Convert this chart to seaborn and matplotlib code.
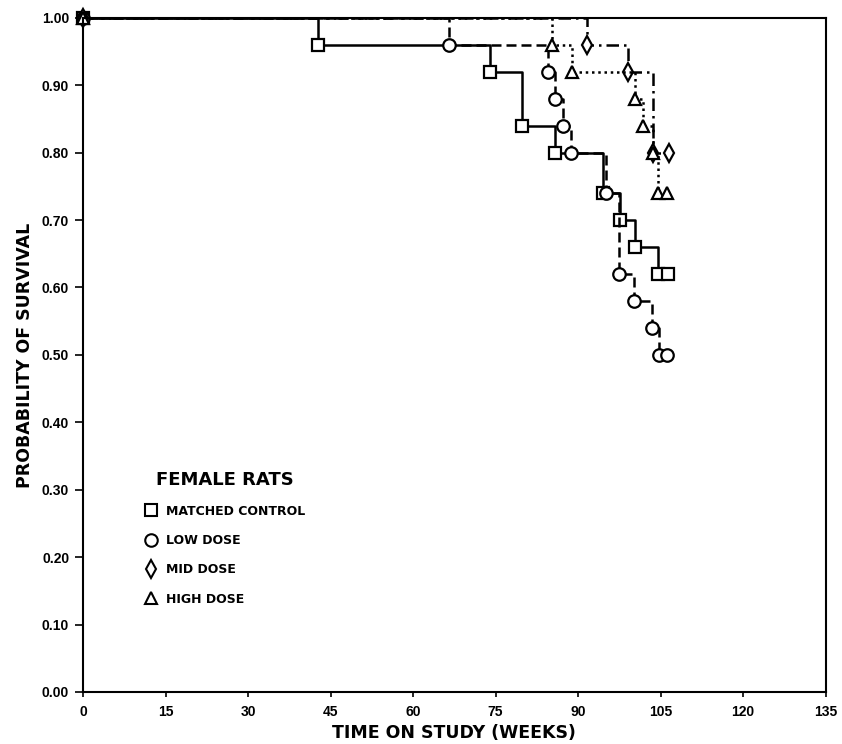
import pandas as pd
import numpy as np
import matplotlib.pyplot as plt
import seaborn as sns
from matplotlib.lines import Line2D

# Kaplan-Meier style step data (weeks, survival)
control_t = [0, 42.8, 74.0, 79.8, 85.8, 94.6, 97.6, 100.4, 104.6, 106.4]
control_s = [1.00, 0.96, 0.92, 0.84, 0.80, 0.74, 0.70, 0.66, 0.62, 0.62]

low_t = [0, 66.5, 84.5, 85.8, 87.2, 88.7, 95.0, 97.5, 100.2, 103.4, 104.7, 106.2]
low_s = [1.00, 0.96, 0.92, 0.88, 0.84, 0.80, 0.74, 0.62, 0.58, 0.54, 0.50, 0.50]

mid_t = [0, 91.6, 99.0, 103.6, 106.6]
mid_s = [1.00, 0.96, 0.92, 0.80, 0.80]

high_t = [0, 85.2, 88.9, 100.4, 101.8, 103.6, 104.6, 106.2]
high_s = [1.00, 0.96, 0.92, 0.88, 0.84, 0.80, 0.74, 0.74]

groups = ['MATCHED CONTROL', 'LOW DOSE', 'MID DOSE', 'HIGH DOSE']
markers = ['s', 'o', 'd', '^']
linestyles = ['-', (0, (4, 2)), (0, (5, 2, 1, 2)), (0, (1, 1.5))]

x_ticks = [0, 15, 30, 45, 60, 75, 90, 105, 120, 135]
y_ticks = [0.0, 0.1, 0.2, 0.3, 0.4, 0.5, 0.6, 0.7, 0.8, 0.9, 1.0]

sns.set_style('ticks')
plt.rcParams['font.family'] = ['Liberation Sans', 'DejaVu Sans']
plt.rcParams['text.color'] = 'black'
plt.rcParams['axes.labelcolor'] = 'black'
plt.rcParams['xtick.color'] = 'black'
plt.rcParams['ytick.color'] = 'black'

frames = []
for g, t, s in zip(groups, [control_t, low_t, mid_t, high_t],
                   [control_s, low_s, mid_s, high_s]):
    frames.append(pd.DataFrame({'group': g, 'week': t, 'surv': s}))
df = pd.concat(frames, ignore_index=True)

fig = plt.figure(figsize=(8.42, 7.44), dpi=100)
ax = fig.add_axes([0.0986, 0.070, 0.882, 0.906])

for g, m, ls in zip(groups, markers, linestyles):
    sub = df[df['group'] == g]
    sns.lineplot(data=sub, x='week', y='surv', ax=ax, estimator=None,
                 drawstyle='steps-post', color='black', linewidth=1.8,
                 linestyle=ls, marker=m, markersize=9, markerfacecolor='white',
                 markeredgecolor='black', markeredgewidth=1.6, clip_on=False,
                 legend=False)

ax.set_xlim(0, 135)
ax.set_ylim(0, 1.0)
ax.set_xticks(x_ticks)
ax.set_xticklabels([str(v) for v in x_ticks], fontsize=10, fontweight='bold')
ax.set_yticks(y_ticks)
ax.set_yticklabels([f'{v:.2f}' for v in y_ticks], fontsize=10, fontweight='bold')
ax.tick_params(axis='y', direction='out', length=6, width=1.2, pad=4)
ax.tick_params(axis='x', direction='out', length=3.5, width=1.2, pad=6)
for sp in ax.spines.values():
    sp.set_linewidth(1.5)
    sp.set_color('black')

ax.set_xlabel('TIME ON STUDY (WEEKS)', fontsize=12.5, fontweight='bold',
              family='DejaVu Sans')
ax.xaxis.set_label_coords(0.5, -0.047)
ax.set_ylabel('PROBABILITY OF SURVIVAL', fontsize=12.5, fontweight='bold',
              family='DejaVu Sans', labelpad=6)

handles = [Line2D([], [], linestyle='none', marker=m, markersize=9,
                  markerfacecolor='white', markeredgecolor='black',
                  markeredgewidth=1.5) for m in markers]
leg = ax.legend(handles, groups, title='FEMALE RATS', loc='upper left',
                bbox_to_anchor=(0.068, 0.345), frameon=False, handlelength=1.0,
                handletextpad=0.7, labelspacing=1.3,
                prop={'size': 9, 'weight': 'bold', 'family': 'DejaVu Sans'})
leg.get_title().set_fontsize(13)
leg.get_title().set_fontweight('bold')
leg.get_title().set_family('DejaVu Sans')

fig.savefig('out.png', dpi=100)
